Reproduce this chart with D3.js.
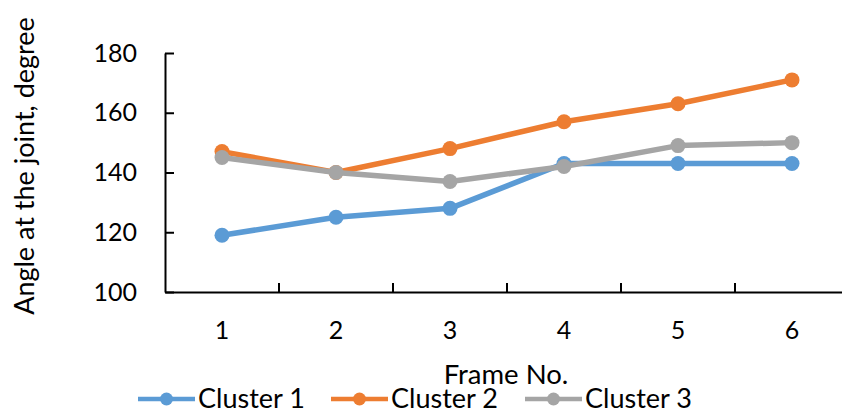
<!DOCTYPE html>
<html>
<head>
<meta charset="utf-8">
<script src="https://cdn.jsdelivr.net/npm/d3@7"></script>
<style>
  html, body { margin: 0; padding: 0; background: #fff; }
  svg { display: block; font-family: Lato, "Open Sans", sans-serif; }
</style>
</head>
<body>
<svg id="chart" width="842" height="412"></svg>
<script>
// Frame numbers along the x axis
const frames = ["1", "2", "3", "4", "5", "6"];
// Joint angle (degrees) per cluster
const cluster1 = [119, 125, 128, 143, 143, 143];
const cluster2 = [147, 140, 148, 157, 163, 171];
const cluster3 = [145, 140, 137, 142, 149, 150];
const yTicks = [100, 120, 140, 160, 180];

const seriesList = [
  { name: "Cluster 1", values: cluster1, color: "#5B9BD5" },
  { name: "Cluster 2", values: cluster2, color: "#ED7D31" },
  { name: "Cluster 3", values: cluster3, color: "#A5A5A5" }
];

const svg = d3.select("#chart");
const plotLeft = 165, plotRight = 849, plotTop = 53, plotBottom = 292;

const x = d3.scaleBand().domain(frames).range([plotLeft, plotRight]);
const y = d3.scaleLinear().domain([100, 180]).range([plotBottom, plotTop]);

// y axis: ticks point into the plot
const yAxis = svg.append("g").attr("transform", `translate(${plotLeft},0)`)
  .call(d3.axisLeft(y).tickValues(yTicks).tickSizeInner(-9).tickSizeOuter(0).tickPadding(28));
// x axis: ticks at category boundaries, pointing up
const xAxis = svg.append("g").attr("transform", `translate(0,${plotBottom})`)
  .call(d3.axisBottom(x).tickSize(0).tickPadding(29));

[yAxis, xAxis].forEach(g => {
  g.select(".domain").attr("stroke", "#000").attr("stroke-width", 2);
  g.selectAll("text").attr("font-size", 25).attr("fill", "#000").attr("font-family", "Lato, sans-serif");
});
yAxis.selectAll(".tick line").attr("stroke", "#000").attr("stroke-width", 2);

const bounds = frames.slice(1).map(f => x(f));
xAxis.selectAll(".bound").data(bounds).join("line")
  .attr("class", "bound")
  .attr("x1", d => d).attr("x2", d => d)
  .attr("y1", 0).attr("y2", -9)
  .attr("stroke", "#000").attr("stroke-width", 2);

// Series lines and markers
const line = d3.line()
  .x((d, i) => x(frames[i]) + x.bandwidth() / 2)
  .y(d => y(d));

seriesList.forEach(s => {
  svg.append("path").datum(s.values)
    .attr("d", line)
    .attr("fill", "none")
    .attr("stroke", s.color)
    .attr("stroke-width", 5.5)
    .attr("stroke-linejoin", "round");
  svg.append("g").selectAll("circle").data(s.values).join("circle")
    .attr("cx", (d, i) => x(frames[i]) + x.bandwidth() / 2)
    .attr("cy", d => y(d))
    .attr("r", 7.5)
    .attr("fill", s.color);
});

// Axis titles
svg.append("text")
  .attr("transform", `translate(34,${166}) rotate(-90)`)
  .attr("text-anchor", "middle")
  .attr("font-size", 27)
  .text("Angle at the joint, degree");

svg.append("text")
  .attr("x", 506).attr("y", 384)
  .attr("text-anchor", "middle")
  .attr("font-size", 27.5)
  .text("Frame No.");

// Legend
const legendX = [138, 331, 525];
const lg = svg.append("g");
seriesList.forEach((s, i) => {
  const g = lg.append("g").attr("transform", `translate(${legendX[i]},399)`);
  g.append("line").attr("x1", 0).attr("x2", 57).attr("y1", 0).attr("y2", 0)
    .attr("stroke", s.color).attr("stroke-width", 4.5);
  g.append("circle").attr("cx", 28.5).attr("cy", 0).attr("r", 6.5).attr("fill", s.color);
  g.append("text").attr("x", 60).attr("y", 8.5).attr("font-size", 27).text(s.name);
});
</script>
</body>
</html>
